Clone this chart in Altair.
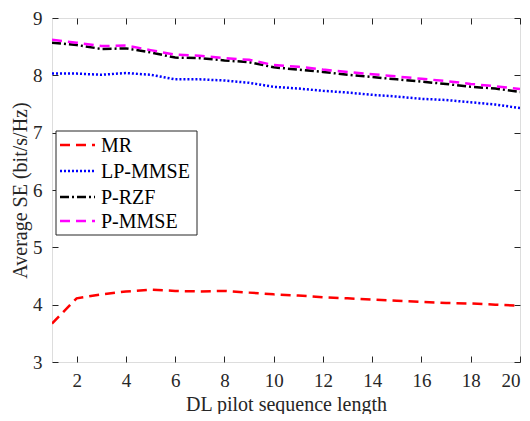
import altair as alt
import pandas as pd

x_vals = list(range(1, 21))
mr = [3.67, 4.11, 4.18, 4.23, 4.26, 4.24, 4.23, 4.24, 4.21, 4.18, 4.16, 4.13, 4.11, 4.09, 4.07, 4.05, 4.03, 4.02, 4.00, 3.98]
lp_mmse = [8.03, 8.03, 8.01, 8.04, 8.01, 7.93, 7.93, 7.91, 7.87, 7.80, 7.77, 7.73, 7.70, 7.66, 7.63, 7.59, 7.57, 7.53, 7.49, 7.43]
p_rzf = [8.57, 8.53, 8.46, 8.47, 8.40, 8.31, 8.30, 8.26, 8.23, 8.14, 8.10, 8.06, 8.01, 7.97, 7.93, 7.89, 7.85, 7.80, 7.77, 7.71]
p_mmse = [8.62, 8.57, 8.51, 8.52, 8.44, 8.36, 8.34, 8.30, 8.27, 8.18, 8.15, 8.10, 8.06, 8.02, 7.98, 7.94, 7.90, 7.85, 7.81, 7.76]

series_names = ["MR", "LP-MMSE", "P-RZF", "P-MMSE"]
series_vals = [mr, lp_mmse, p_rzf, p_mmse]
colors = ["#ff0000", "#0000ff", "#000000", "#ff00ff"]
dashes = [[10, 6], [2, 2], [9, 3, 2, 3], [10, 6]]
x_ticks = [2, 4, 6, 8, 10, 12, 14, 16, 18, 20]
y_ticks = [3, 4, 5, 6, 7, 8, 9]

rows = []
for i, (name, vals) in enumerate(zip(series_names, series_vals)):
    for xv, yv in zip(x_vals, vals):
        rows.append({"x": xv, "y": yv, "series": name, "ord": i})
df = pd.DataFrame(rows)

FONT = "Liberation Serif"
AX = "#262626"

def axis_common(**kw):
    base = dict(domain=False, grid=False, tickColor=AX, tickSize=6, offset=-6,
                labelFont=FONT, labelFontSize=19, labelColor=AX,
                titleFont=FONT, titleFontSize=20, titleColor=AX, titleFontWeight="normal")
    base.update(kw)
    return alt.Axis(**base)

xscale = alt.Scale(domain=[1, 20], nice=False, zero=False)
yscale = alt.Scale(domain=[3, 9], nice=False, zero=False)

lines = alt.Chart(df).mark_line(strokeWidth=2.5, clip=True).encode(
    x=alt.X("x:Q", scale=xscale,
            axis=axis_common(values=x_ticks, orient="bottom", labelPadding=9,
                             title="DL pilot sequence length", titlePadding=4)),
    y=alt.Y("y:Q", scale=yscale,
            axis=axis_common(values=y_ticks, orient="left", labelPadding=10,
                             title="Average SE (bit/s/Hz)", titlePadding=2)),
    color=alt.Color("series:N", scale=alt.Scale(domain=series_names, range=colors), legend=None),
    strokeDash=alt.StrokeDash("series:N", scale=alt.Scale(domain=series_names, range=dashes), legend=None),
    order=alt.Order("ord:Q"),
    detail="series:N",
)

frame = alt.Chart(df).mark_line(opacity=0).encode(
    x=alt.X("x:Q", scale=xscale, axis=axis_common(values=x_ticks, orient="top", labels=False, title=None)),
    y=alt.Y("y:Q", scale=yscale, axis=axis_common(values=y_ticks, orient="right", labels=False, title=None)),
)

one = pd.DataFrame({"k": [0]})
legend_layers = [
    alt.Chart(one).mark_rect(fill="white", stroke=AX, strokeWidth=1).encode(
        x=alt.value(4), x2=alt.value(145), y=alt.value(113), y2=alt.value(217)
    )
]
row_y = [127, 153, 179, 203]
for name, col, dsh, yy in zip(series_names, colors, dashes, row_y):
    legend_layers.append(
        alt.Chart(one).mark_rule(color=col, strokeDash=dsh, strokeWidth=2.5).encode(
            x=alt.value(8), x2=alt.value(43), y=alt.value(yy)
        )
    )
    legend_layers.append(
        alt.Chart(one).mark_text(text=name, font=FONT, fontSize=20, color="#000000",
                                 align="left", baseline="middle").encode(
            x=alt.value(49), y=alt.value(yy + 1)
        )
    )

chart = alt.layer(lines, frame, *legend_layers).resolve_axis(
    x="independent", y="independent"
).properties(
    width=468, height=344,
    padding={"left": 44, "top": 10, "right": 2, "bottom": 52},
    autosize=alt.AutoSizeParams(type="none"),
).configure_view(stroke=AX, strokeWidth=1).configure(background="white")

chart.save("out.html", embed_options={"renderer": "svg", "actions": False})
